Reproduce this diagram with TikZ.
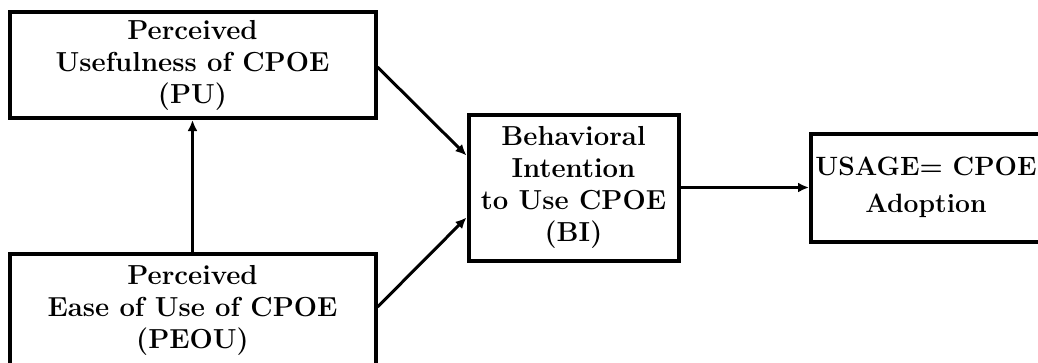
\documentclass[tikz,border=0pt]{standalone}
\usepackage{fontspec}
\usepackage{tikz}
\usetikzlibrary{arrows.meta,positioning}

\begin{document}
\begin{tikzpicture}[
    x=1pt, y=-1pt,
    box/.style={draw, line width=4pt, align=center, inner sep=0pt,
                font=\fontsize{27.5}{32}\selectfont\bfseries},
    arr/.style={-{Latex[length=11pt,width=10pt]}, line width=3pt}
]
    \useasboundingbox (0,0) rectangle (1038,362);
    \clip (0,0) rectangle (1038,362);
    \node[box, minimum width=366pt, minimum height=106pt] (pu)   at (192.5,65)  {Perceived\\Usefulness of CPOE\\(PU)};
    \node[box, minimum width=366pt, minimum height=112pt] (peou) at (192.5,310) {Perceived\\Ease of Use of CPOE\\(PEOU)};
    \node[box, minimum width=210pt, minimum height=146pt] (bi)   at (573.5,187.5) {Behavioral\\Intention\\to Use CPOE\\(BI)};
    \node[box, minimum width=230pt, minimum height=108pt,
          font=\fontsize{26.5}{37}\selectfont\bfseries] (use)  at (926,187.5) {USAGE= CPOE\\Adoption};
    \draw[arr] (peou.north) -- (pu.south);
    \draw[arr] ([yshift=-2pt]pu.east) -- ([yshift=32pt]bi.west);
    \draw[arr] ([yshift=3pt]peou.east) -- ([yshift=-30pt]bi.west);
    \draw[arr] (bi.east) -- (use.west);
\end{tikzpicture}
\end{document}
